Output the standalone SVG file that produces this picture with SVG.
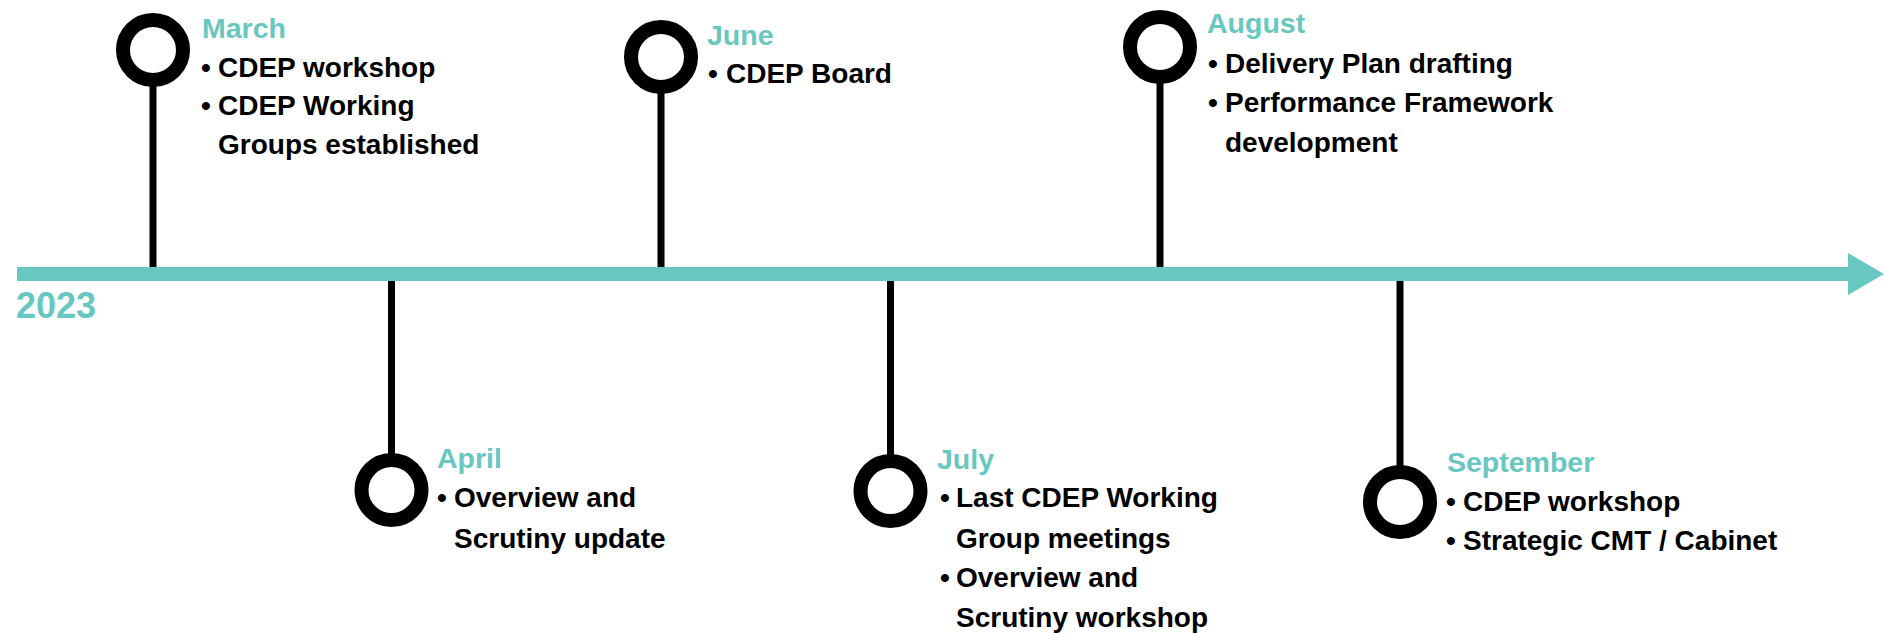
<svg xmlns="http://www.w3.org/2000/svg" width="1884" height="633" viewBox="0 0 1884 633">
  <style>
    .ring { fill: none; stroke: #000; stroke-width: 14; }
    .stem { stroke: #000; stroke-width: 7; fill: none; }
    .month { font-family: "Liberation Sans", Arial, sans-serif; font-weight: bold; font-size: 28.5px; fill: #68C7C0; }
    .item { font-family: "Liberation Sans", Arial, sans-serif; font-weight: bold; font-size: 28px; fill: #000; }
    .year { font-family: "Liberation Sans", Arial, sans-serif; font-weight: bold; font-size: 36px; fill: #68C7C0; }
  </style>
  <rect width="1884" height="633" fill="#fff"/>

  <!-- timeline axis and stems -->
  <g id="connectors">
    <rect x="17" y="267" width="1832" height="14" fill="#68C7C0"/>
    <polygon points="1848,253 1884,274 1848,295" fill="#68C7C0"/>
    <line class="stem" x1="153" y1="86" x2="153" y2="267"/>
    <line class="stem" x1="391.5" y1="281" x2="391.5" y2="454"/>
    <line class="stem" x1="661" y1="93" x2="661" y2="267"/>
    <line class="stem" x1="890.5" y1="281" x2="890.5" y2="455"/>
    <line class="stem" x1="1160" y1="83" x2="1160" y2="267"/>
    <line class="stem" x1="1400" y1="281" x2="1400" y2="466"/>
  </g>

  <text class="year" x="16" y="318">2023</text>

  <g id="march">
    <circle class="ring" cx="153" cy="50" r="30"/>
    <text class="month" x="202" y="38">March</text>
    <text class="item" x="201" y="77">•</text>
    <text class="item" x="218" y="77">CDEP workshop</text>
    <text class="item" x="201" y="115">•</text>
    <text class="item" x="218" y="115">CDEP Working</text>
    <text class="item" x="218" y="154">Groups established</text>
  </g>

  <g id="april">
    <circle class="ring" cx="391.5" cy="490" r="30"/>
    <text class="month" x="437" y="468">April</text>
    <text class="item" x="437" y="507">•</text>
    <text class="item" x="454" y="507">Overview and</text>
    <text class="item" x="454" y="548">Scrutiny update</text>
  </g>

  <g id="june">
    <circle class="ring" cx="661" cy="57" r="30"/>
    <text class="month" x="707" y="45">June</text>
    <text class="item" x="708" y="83">•</text>
    <text class="item" x="726" y="83">CDEP Board</text>
  </g>

  <g id="july">
    <circle class="ring" cx="890.5" cy="491" r="30"/>
    <text class="month" x="937" y="469">July</text>
    <text class="item" x="940" y="507">•</text>
    <text class="item" x="956" y="507">Last CDEP Working</text>
    <text class="item" x="956" y="548">Group meetings</text>
    <text class="item" x="940" y="587">•</text>
    <text class="item" x="956" y="587">Overview and</text>
    <text class="item" x="956" y="627">Scrutiny workshop</text>
  </g>

  <g id="august">
    <circle class="ring" cx="1160" cy="47" r="30"/>
    <text class="month" x="1207" y="33">August</text>
    <text class="item" x="1208" y="73">•</text>
    <text class="item" x="1225" y="73">Delivery Plan drafting</text>
    <text class="item" x="1208" y="112">•</text>
    <text class="item" x="1225" y="112">Performance Framework</text>
    <text class="item" x="1225" y="152">development</text>
  </g>

  <g id="september">
    <circle class="ring" cx="1400" cy="502" r="30"/>
    <text class="month" x="1447" y="472">September</text>
    <text class="item" x="1446" y="511">•</text>
    <text class="item" x="1463" y="511">CDEP workshop</text>
    <text class="item" x="1446" y="550">•</text>
    <text class="item" x="1463" y="550">Strategic CMT / Cabinet</text>
  </g>
</svg>
